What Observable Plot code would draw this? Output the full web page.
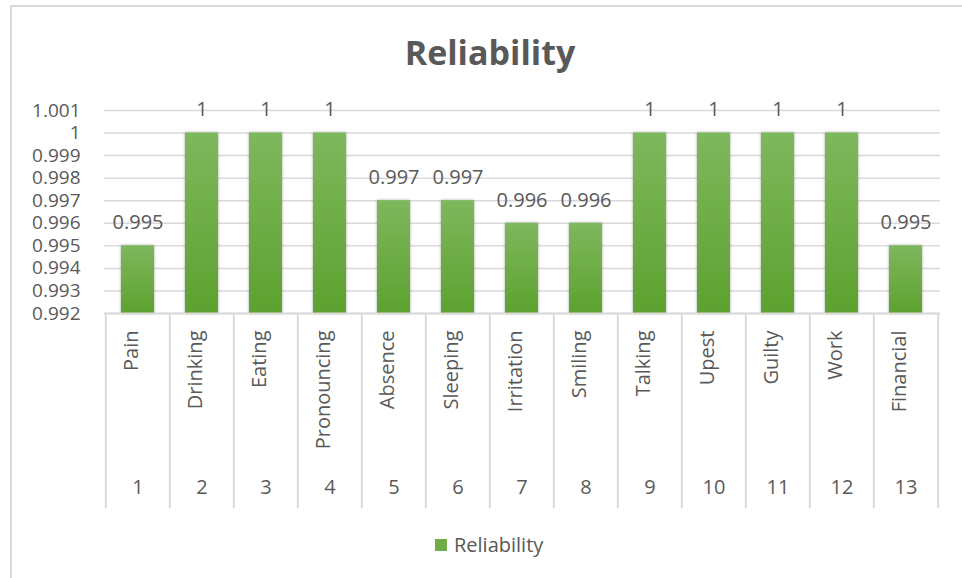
<!DOCTYPE html>
<html>
<head>
<meta charset="utf-8">
<script src="https://cdn.jsdelivr.net/npm/d3@7"></script>
<script src="https://cdn.jsdelivr.net/npm/@observablehq/plot@0.6"></script>
<style>
  html, body { margin: 0; padding: 0; background: #fff; }
  #wrap { position: relative; width: 962px; height: 578px; overflow: hidden; font-family: "Open Sans", sans-serif; color: #595959; }
  #border { position: absolute; left: 10px; top: 5px; width: 1000px; height: 700px; border-top: 2px solid #d9d9d9; border-left: 2px solid #d9d9d9; }
  #title { position: absolute; left: 0; width: 980px; top: 24px; text-align: center; font-weight: 700; font-size: 34px; line-height: 56px; }
  #chart { position: absolute; left: 0; top: 85px; }
  #legend { position: absolute; left: 435px; top: 531px; display: flex; align-items: center; font-size: 20px; }
  #legend .sw { width: 12px; height: 12px; background: #70ad47; margin-right: 7px; }
</style>
</head>
<body>
<div id="wrap">
  <div id="border"></div>
  <div id="title">Reliability</div>
  <div id="chart"></div>
  <div id="legend"><div class="sw"></div><span>Reliability</span></div>
</div>
<script>
const categories = ["Pain","Drinking","Eating","Pronouncing","Absence","Sleeping","Irritation","Smiling","Talking","Upest","Guilty","Work","Financial"];
const numbers = ["1","2","3","4","5","6","7","8","9","10","11","12","13"];
const values = [0.995,1,1,1,0.997,0.997,0.996,0.996,1,1,1,1,0.995];
const yTicks = [0.992,0.993,0.994,0.995,0.996,0.997,0.998,0.999,1,1.001];

const data = categories.map((c, i) => ({cat: c, num: numbers[i], value: values[i]}));

const W = 962, H = 440, mL = 104, mR = 22, mT = 25, mB = 212;
const step = (W - mL - mR) / categories.length;
const frameH = H - mT - mB;
const fmt = d => String(+d.toFixed(3));
const grid = "#d9d9d9";

const chart = Plot.plot({
  width: W, height: H,
  marginLeft: mL, marginRight: mR, marginTop: mT, marginBottom: mB,
  style: {fontFamily: "'Open Sans', sans-serif", color: "#595959", background: "transparent", overflow: "visible"},
  x: {domain: categories, paddingInner: 0.48, paddingOuter: 0.24, axis: null},
  y: {domain: [0.992, 1.001], axis: null},
  marks: [
    Plot.ruleY(yTicks, {stroke: grid, strokeWidth: 1.5}),
    Plot.axisY(yTicks, {tickSize: 0, tickPadding: 24, fontSize: 19, tickFormat: fmt, fill: "#595959", label: null}),
    Plot.barY(data, {x: "cat", y1: () => 0.992, y2: "value", fill: "url(#barGrad)"}),
    Plot.ruleX(categories, {x: d => d, dx: -step / 2, insetTop: frameH, insetBottom: -195, stroke: grid, strokeWidth: 2}),
    Plot.ruleX([categories[categories.length - 1]], {x: d => d, dx: step / 2, insetTop: frameH, insetBottom: -195, stroke: grid, strokeWidth: 2}),
    Plot.ruleY([0.992], {stroke: grid, strokeWidth: 2}),
    Plot.text(data, {x: "cat", y: "value", text: d => fmt(d.value), dy: -23, fontSize: 20, fill: "#595959"}),
    Plot.text(data, {x: "cat", text: "cat", frameAnchor: "bottom", dy: 17, rotate: -90, textAnchor: "end", fontSize: 20, fill: "#595959"}),
    Plot.text(data, {x: "cat", text: "num", frameAnchor: "bottom", dy: 180, fontSize: 20, fill: "#595959"})
  ]
});

d3.select(chart).insert("defs", ":first-child").html(`
  <linearGradient id="barGrad" x1="0" y1="0" x2="0" y2="1">
    <stop offset="0" stop-color="#7db85d"/>
    <stop offset="1" stop-color="#5ea12f"/>
  </linearGradient>
  <filter id="barShadow" x="-30%" y="-10%" width="160%" height="120%">
    <feDropShadow dx="0" dy="0" stdDeviation="1.6" flood-color="#000" flood-opacity="0.35"/>
  </filter>`);
d3.select(chart).selectAll("rect").filter(function() { return this.getAttribute("fill") === "url(#barGrad)" || this.parentNode.getAttribute("fill") === "url(#barGrad)"; }).attr("filter", "url(#barShadow)");

document.getElementById("chart").appendChild(chart);
</script>
</body>
</html>
